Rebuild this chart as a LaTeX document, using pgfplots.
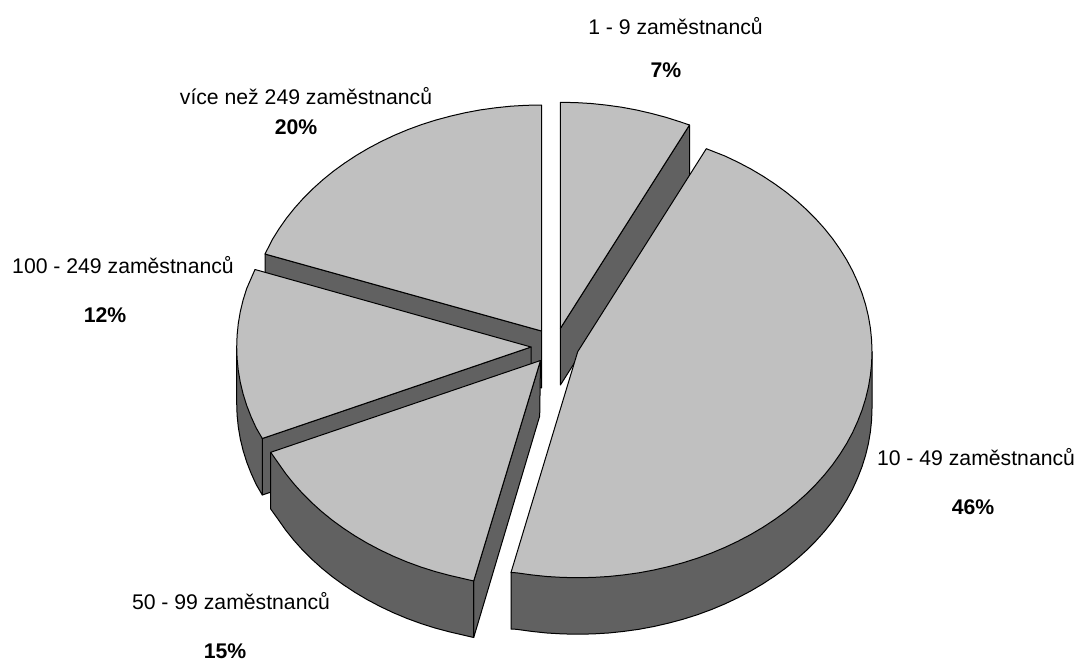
\documentclass[border=0pt]{standalone}
\usepackage{pgfplots}
\pgfplotsset{compat=1.18}
\usepackage{fontspec}
\setmainfont{Liberation Sans}
\definecolor{topc}{HTML}{C0C0C0}
\definecolor{sidec}{HTML}{616161}
\pgfplotsset{
  topface/.style={draw=black,line width=1pt,fill=topc,mark=none,line join=round},
  sideface/.style={draw=black,line width=1pt,fill=sidec,mark=none,line join=round},
}
\newcommand{\lab}[3]{\node[font=\fontsize{21.2}{25}\selectfont,inner sep=0pt,anchor=base] at (axis cs:#1,#2) {#3};}
\begin{document}
\begin{tikzpicture}
\path[use as bounding box] (0,0) rectangle (1079pt,662pt);
\begin{axis}[at={(0,0)},anchor=south west,scale only axis,width=1079pt,height=662pt,
  xmin=0,xmax=1079,ymin=0,ymax=662,y dir=reverse,hide axis,clip=false]
% 1 - 9: side, top
\addplot[sideface] coordinates {(560.4,328.3)(689.5,125)(689.5,182)(560.4,385)} -- cycle;
\addplot[topface] coordinates {(560.4,328.3)(560.4,102.3)(575.8,102.6)(591.2,103.5)(606.4,105.1)(621.6,107.2)(636.6,110)(651.3,113.4)(665.9,117.3)(680.1,121.8)(689.5,125)} -- cycle;
% 10 - 49: side, top
\addplot[sideface] coordinates {(872,351.7)(872,408.2)(871.6,420)(870.4,431.8)(868.4,443.6)(865.6,455.2)(862,466.7)(857.6,478)(852.5,489.2)(846.6,500.1)(839.9,510.8)(832.6,521.2)(824.5,531.3)(815.8,541)(806.4,550.4)(796.4,559.4)(785.8,568)(774.6,576.1)(762.9,583.8)(750.7,591)(738,597.7)(724.9,603.9)(711.3,609.6)(697.4,614.7)(683.2,619.2)(668.6,623.1)(653.9,626.5)(638.9,629.3)(623.7,631.4)(608.5,633)(593.1,633.9)(577.7,634.2)(562.3,633.9)(546.9,633)(531.7,631.4)(516.5,629.3)(511,629)(511,572.5)} -- cycle;
\addplot[topface] coordinates {(577.7,351.7)(706.3,148.7)(724.9,156)(738,162.2)(750.7,168.9)(762.9,176.1)(774.6,183.8)(785.8,191.9)(796.4,200.5)(806.4,209.5)(815.8,218.9)(824.5,228.6)(832.6,238.7)(839.9,249.1)(846.6,259.8)(852.5,270.7)(857.6,281.9)(862,293.2)(865.6,304.7)(868.4,316.3)(870.4,328.1)(871.6,339.9)(872,351.7)(871.6,363.5)(870.4,375.3)(868.4,387.1)(865.6,398.7)(862,410.2)(857.6,421.5)(852.5,432.7)(846.6,443.6)(839.9,454.3)(832.6,464.7)(824.5,474.8)(815.8,484.5)(806.4,493.9)(796.4,502.9)(785.8,511.5)(774.6,519.6)(762.9,527.3)(750.7,534.5)(738,541.2)(724.9,547.4)(711.3,553.1)(697.4,558.2)(683.2,562.7)(668.6,566.6)(653.9,570)(638.9,572.8)(623.7,574.9)(608.5,576.5)(593.1,577.4)(577.7,577.7)(562.3,577.4)(546.9,576.5)(531.7,574.9)(516.5,572.8)(511,572.5)} -- cycle;
% vice nez 249: side, top
\addplot[sideface] coordinates {(265,254)(541.5,331)(541.5,388)(265,311)} -- cycle;
\addplot[topface] coordinates {(541.5,331)(541.5,105)(526.1,105.3)(510.7,106.2)(495.5,107.8)(480.3,109.9)(465.3,112.7)(450.6,116.1)(436,120)(421.8,124.5)(407.9,129.6)(394.3,135.3)(381.2,141.5)(368.5,148.2)(356.3,155.4)(344.6,163.1)(333.4,171.2)(322.8,179.8)(312.8,188.8)(303.4,198.2)(294.7,207.9)(286.6,218)(279.3,228.4)(272.6,239.1)(265,254)} -- cycle;
% 100 - 249: sides, top
\addplot[sideface] coordinates {(262.3,438.5)(531,347)(531,403.5)(262.3,495)} -- cycle;
\addplot[sideface] coordinates {(236.7,347)(236.7,403.5)(237.1,415.3)(238.3,427.1)(240.3,438.9)(243.1,450.5)(246.7,462)(251.1,473.3)(256.2,484.5)(262.3,495)(262.3,438.5)} -- cycle;
\addplot[topface] coordinates {(531,347)(255,269.5)(246.7,288.5)(243.1,300)(240.3,311.6)(238.3,323.4)(237.1,335.2)(236.7,347)(237.1,358.8)(238.3,370.6)(240.3,382.4)(243.1,394)(246.7,405.5)(251.1,416.8)(256.2,428)(262.3,438.5)} -- cycle;
% 50 - 99: sides, top
\addplot[sideface] coordinates {(540.5,360.5)(473.7,581)(473.7,637.5)(539.7,416)} -- cycle;
\addplot[sideface] coordinates {(270.7,452.3)(270.7,509)(278.3,519.6)(285.6,530)(293.7,540.1)(302.4,549.8)(311.8,559.2)(321.8,568.2)(332.4,576.8)(343.6,584.9)(355.3,592.6)(367.5,599.8)(380.2,606.5)(393.3,612.7)(406.9,618.4)(420.8,623.5)(435,628)(449.6,631.9)(464.3,635.3)(473.7,637.5)(473.7,581)} -- cycle;
\addplot[topface] coordinates {(540.5,360.5)(270.7,452.3)(278.3,463.1)(285.6,473.5)(293.7,483.6)(302.4,493.3)(311.8,502.7)(321.8,511.7)(332.4,520.3)(343.6,528.4)(355.3,536.1)(367.5,543.3)(380.2,550)(393.3,556.2)(406.9,561.9)(420.8,567)(435,571.5)(449.6,575.4)(464.3,578.8)(473.7,581)} -- cycle;
% labels
\lab{675.5}{34}{1 - 9 zaměstnanců}
\lab{666}{77}{\textbf{7\%}}
\lab{306}{104}{více než 249 zaměstnanců}
\lab{296}{134.5}{\textbf{20\%}}
\lab{123}{273}{100 - 249 zaměstnanců}
\lab{105}{322}{\textbf{12\%}}
\lab{231}{609.5}{50 - 99 zaměstnanců}
\lab{225}{658.5}{\textbf{15\%}}
\lab{976}{465}{10 - 49 zaměstnanců}
\lab{973}{514}{\textbf{46\%}}
\end{axis}
\end{tikzpicture}
\end{document}
